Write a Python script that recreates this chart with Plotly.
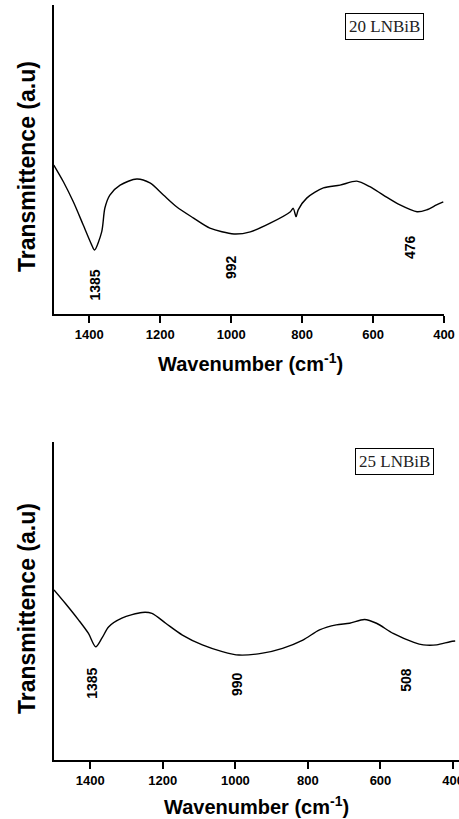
import plotly.graph_objects as go

# FTIR spectra of the two glass compositions (transmittance in arbitrary units)
wn_20 = [1500, 1473, 1445, 1417, 1393, 1385, 1365, 1356, 1342, 1313, 1266, 1229,
         1191, 1154, 1107, 1060, 992, 946, 890, 833, 825, 817, 811, 787, 740,
         693, 646, 609, 571, 524, 476, 449, 421, 402]
tr_20 = [48.2, 42.8, 36.3, 28.8, 22.3, 20.7, 26.6, 34.3, 38.5, 41.7, 43.7, 42.4,
         38.5, 34.7, 31.1, 27.8, 25.9, 26.6, 29.4, 33.1, 34.2, 31.5, 33.7, 37.5, 40.8,
         41.7, 43.0, 41.2, 38.5, 35.3, 33.1, 33.7, 35.3, 36.3]

wn_25 = [1500, 1469, 1432, 1405, 1385, 1368, 1349, 1313, 1257, 1230, 1192, 1146,
         1091, 1036, 990, 925, 870, 814, 768, 722, 685, 644, 611, 565, 508,
         482, 445, 408, 394]
tr_25 = [53.5, 49.3, 44.0, 39.8, 35.6, 38.3, 41.9, 44.6, 46.4, 46.1, 43.0, 39.3,
         36.2, 34.1, 33.0, 33.6, 35.1, 37.7, 40.9, 42.5, 43.0, 44.2, 43.0, 39.8, 37.0,
         36.2, 36.2, 37.2, 37.4]

# band assignments: (wavenumber, label height in y units, horizontal nudge px)
bands_20 = [(1385, 9.4, 0), (992, 15.2, -3), (476, 21.7, -7)]
bands_25 = [(1385, 24.2, -4), (990, 23.9, -2), (508, 25.2, -8)]

sample_names = ["20 LNBiB", "25 LNBiB"]
tick_vals = [1400, 1200, 1000, 800, 600, 400]

W, H = 459, 819
BOLD = dict(family="Liberation Sans, Arial, sans-serif", color="black", weight="bold")

fig = go.Figure()
fig.add_trace(go.Scatter(x=wn_20, y=tr_20, mode="lines", xaxis="x", yaxis="y",
                         line=dict(color="black", width=1.4, shape="spline",
                                   smoothing=0.8),
                         showlegend=False))
fig.add_trace(go.Scatter(x=wn_25, y=tr_25, mode="lines", xaxis="x2", yaxis="y2",
                         line=dict(color="black", width=1.4, shape="spline",
                                   smoothing=0.8),
                         showlegend=False))

xcommon = dict(showline=True, linecolor="black", linewidth=2, ticks="outside",
               ticklen=7, tickwidth=2, tickcolor="black", tickvals=tick_vals,
               showgrid=False, zeroline=False, automargin=False,
               ticklabeloverflow="allow",
               tickfont=dict(size=13, **BOLD))
ycommon = dict(showline=True, linecolor="black", linewidth=2, showticklabels=False,
               ticks="", showgrid=False, zeroline=False, range=[0, 100],
               automargin=False)

fig.update_layout(
    width=W, height=H,
    margin=dict(l=0, r=0, t=0, b=0, pad=0, autoexpand=False),
    paper_bgcolor="white", plot_bgcolor="white",
    xaxis=dict(domain=[53.8 / W, 444 / W], range=[1500, 400], anchor="y", **xcommon),
    yaxis=dict(domain=[(H - 314) / H, (H - 5) / H], anchor="x", **ycommon),
    xaxis2=dict(domain=[54 / W, 1.0], range=[1500, 383.5], anchor="y2", **xcommon),
    yaxis2=dict(domain=[(H - 760) / H, (H - 442) / H], anchor="x2", **ycommon),
)

ann = []
for xa, ya, bands in (("x", "y", bands_20), ("x2", "y2", bands_25)):
    for wn, yv, dx in bands:
        ann.append(dict(x=wn, y=yv, xref=xa, yref=ya, text=str(wn), showarrow=False,
                        textangle=-90, xshift=dx, xanchor="center", yanchor="middle",
                        font=dict(size=14, **BOLD)))

# sample name boxes
for name, (cx, cy) in zip(sample_names, [(384, 27), (394, 461)]):
    ann.append(dict(x=cx / W, y=1 - cy / H, xref="paper", yref="paper", text=name,
                    showarrow=False, bordercolor="black", borderwidth=1, borderpad=3,
                    bgcolor="white", xanchor="center", yanchor="middle",
                    font=dict(family="Liberation Serif, Times New Roman, serif",
                              size=17, color="#222")))

# axis titles
for cx, cy in [(27, 167), (27, 609)]:
    ann.append(dict(x=cx / W, y=1 - cy / H, xref="paper", yref="paper",
                    text="Transmittence (a.u)", showarrow=False, textangle=-90,
                    xanchor="center", yanchor="middle",
                    font=dict(size=23, **BOLD)))
for cx, cy in [(250, 362), (256, 805)]:
    ann.append(dict(x=cx / W, y=1 - cy / H, xref="paper", yref="paper",
                    text="Wavenumber (cm<sup>-1</sup>)", showarrow=False,
                    xanchor="center", yanchor="middle",
                    font=dict(size=20, **BOLD)))

fig.update_layout(annotations=ann)
fig.write_html("out.html")
